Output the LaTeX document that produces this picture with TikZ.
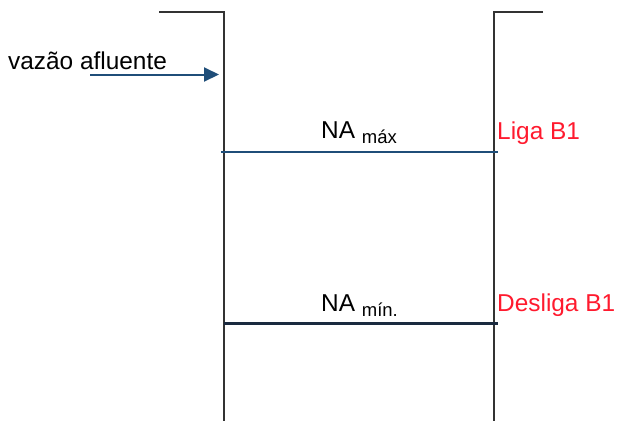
\documentclass[tikz,border=0pt]{standalone}
\usepackage{fontspec}
\setmainfont{Liberation Sans}
\usetikzlibrary{arrows.meta}
\definecolor{wallgray}{HTML}{333333}
\definecolor{navy}{HTML}{1F4E79}
\definecolor{darknavy}{HTML}{1A2A3F}
\definecolor{alarmred}{HTML}{FF1A2E}
\tikzset{
  wall/.style={draw=wallgray, line width=2pt},
  level/.style={draw=navy, line width=2pt},
  levelmin/.style={draw=darknavy, line width=2.5pt},
  flow/.style={draw=navy, line width=2pt, -{Triangle[length=15pt,width=14pt]}},
  lbl/.style={anchor=base west, inner sep=0pt, font=\fontsize{24.4}{28}\selectfont, text=black},
  redlbl/.style={lbl, text=alarmred},
}
\newcommand{\subtxt}[1]{\raisebox{-5pt}{\fontsize{18.5}{20}\selectfont #1}}
\begin{document}
\begin{tikzpicture}[x=1pt,y=-1pt]
\useasboundingbox (0,0) rectangle (618,421);
% tank walls
\draw[wall] (159,12) -- (223.5,12) -- (223.5,421);
\draw[wall] (543,12) -- (493.5,12) -- (493.5,421);
% levels
\coordinate (maxL) at (221,151.5);
\coordinate (maxR) at (498,151.5);
\coordinate (minL) at (224,323.5);
\coordinate (minR) at (498,323.5);
\draw[level] (maxL) -- (maxR);
\draw[levelmin] (minL) -- (minR);
% inflow arrow
\coordinate (inS) at (90,74.5);
\coordinate (inE) at (219,74.5);
\draw[flow] (inS) -- (inE);
% labels
\node[lbl] (vaz) at (8,69) {vazão afluente};
\node[lbl] (namax) at (321,138.5) {NA \subtxt{máx}};
\node[redlbl] (liga) at (497,139) {Liga B1};
\node[lbl] (namin) at (321,311.5) {NA \subtxt{mín.}};
\node[redlbl] (desliga) at (497,311.5) {Desliga B1};
\end{tikzpicture}
\end{document}
